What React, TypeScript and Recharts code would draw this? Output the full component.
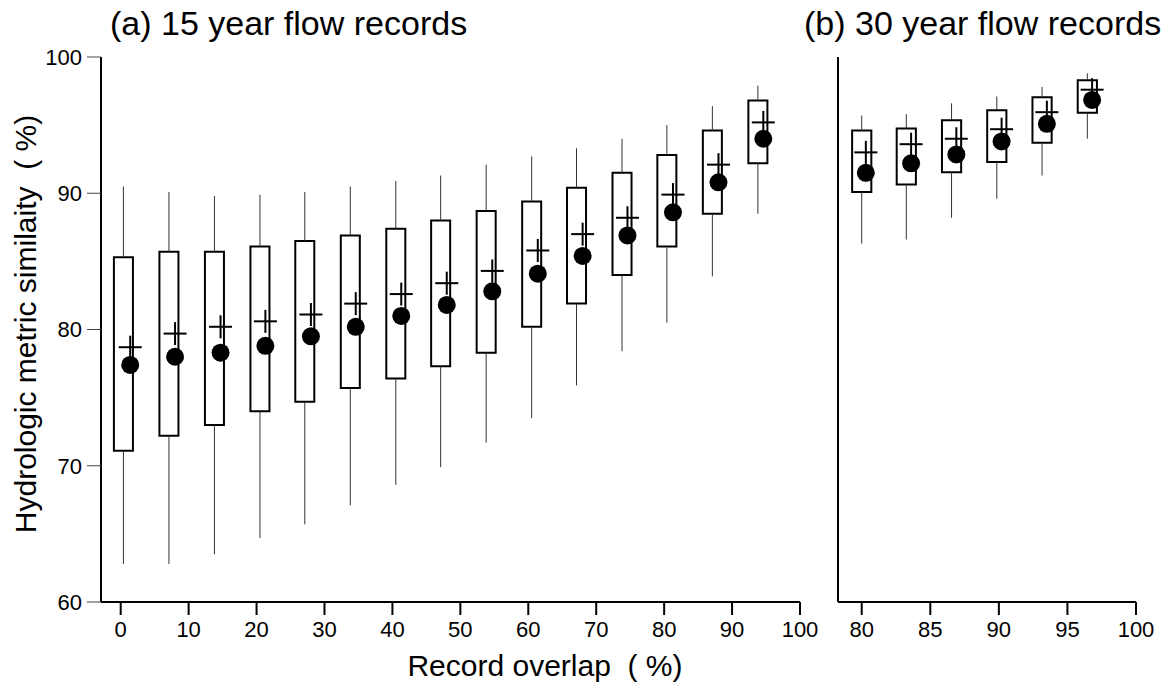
import { ComposedChart, ReferenceArea, ReferenceLine, Scatter, XAxis, YAxis } from 'recharts'

// (a) 15 year flow records
const boxXA = [0.4, 7.1, 13.8, 20.5, 27.1, 33.8, 40.5, 47.1, 53.8, 60.5, 67.1, 73.8, 80.4, 87.1, 93.8]
const markXA = [1.4, 8.0, 14.7, 21.3, 28.0, 34.6, 41.3, 48.0, 54.7, 61.4, 68.0, 74.6, 81.3, 88.0, 94.6]
const whiskerLowA = [62.8, 62.8, 63.5, 64.7, 65.7, 67.1, 68.6, 69.9, 71.7, 73.5, 75.9, 78.4, 80.5, 83.9, 88.5]
const boxLowA = [71.1, 72.2, 73.0, 74.0, 74.7, 75.7, 76.4, 77.3, 78.3, 80.2, 81.9, 84.0, 86.1, 88.5, 92.2]
const boxHighA = [85.3, 85.7, 85.7, 86.1, 86.5, 86.9, 87.4, 88.0, 88.7, 89.4, 90.4, 91.5, 92.8, 94.6, 96.8]
const whiskerHighA = [90.5, 90.1, 89.8, 89.9, 90.1, 90.5, 90.9, 91.3, 92.1, 92.7, 93.3, 94.0, 95.0, 96.4, 97.9]
const crossYA = [78.7, 79.7, 80.2, 80.6, 81.1, 81.9, 82.6, 83.4, 84.3, 85.8, 87.0, 88.2, 89.9, 92.1, 95.2]
const dotYA = [77.4, 78.0, 78.3, 78.8, 79.5, 80.2, 81.0, 81.8, 82.8, 84.1, 85.4, 86.9, 88.6, 90.8, 94.0]
const ticksXA = [0, 10, 20, 30, 40, 50, 60, 70, 80, 90, 100]

// (b) 30 year flow records
const boxXB = [80.0, 83.25, 86.55, 89.85, 93.15, 96.45]
const markXB = [80.3, 83.6, 86.9, 90.2, 93.5, 96.8]
const whiskerLowB = [86.3, 86.6, 88.2, 89.6, 91.3, 94.0]
const boxLowB = [90.1, 90.65, 91.55, 92.3, 93.7, 95.9]
const boxHighB = [94.6, 94.75, 95.35, 96.1, 97.05, 98.3]
const whiskerHighB = [95.7, 95.8, 96.6, 97.1, 97.8, 98.8]
const crossYB = [93.0, 93.6, 94.0, 94.7, 95.95, 97.6]
const dotYB = [91.5, 92.2, 92.85, 93.8, 95.1, 96.85]
const ticksXB = [80, 85, 90, 95, 100]

const ticksY = [60, 70, 80, 90, 100]

const FONT = '"Liberation Sans", Arial, sans-serif'

function CrossMark(props: any) {
  const { cx, cy } = props
  return (
    <g>
      <line x1={cx - 11.5} x2={cx + 11.5} y1={cy} y2={cy} stroke="#000" strokeWidth={2} />
      <line x1={cx} x2={cx} y1={cy - 11.5} y2={cy + 11.5} stroke="#000" strokeWidth={2} />
    </g>
  )
}

function DotMark(props: any) {
  const { cx, cy } = props
  return <circle cx={cx} cy={cy} r={9} fill="#000" />
}

interface PanelProps {
  boxX: number[]
  markX: number[]
  whiskerLow: number[]
  boxLow: number[]
  boxHigh: number[]
  whiskerHigh: number[]
  crossY: number[]
  dotY: number[]
  ticksX: number[]
  domainX: [number, number]
  halfWidth: number
  width: number
  margin: { top: number; right: number; bottom: number; left: number }
  yAxisWidth: number
  showYLabels: boolean
}

function BoxPanel(p: PanelProps) {
  const crosses = p.markX.map((x, i) => ({ x, y: p.crossY[i] }))
  const dots = p.markX.map((x, i) => ({ x, y: p.dotY[i] }))

  return (
    <ComposedChart width={p.width} height={688} margin={p.margin}>
      <XAxis
        type="number"
        dataKey="x"
        domain={p.domainX}
        ticks={p.ticksX}
        allowDataOverflow
        height={40}
        tickSize={13}
        tickMargin={6}
        axisLine={{ stroke: '#000', strokeWidth: 2 }}
        tickLine={{ stroke: '#000', strokeWidth: 2 }}
        tick={{ fill: '#000', fontSize: 22, fontFamily: FONT }}
      />
      <YAxis
        type="number"
        dataKey="y"
        domain={[60, 100]}
        ticks={ticksY}
        allowDataOverflow
        width={p.yAxisWidth}
        tickSize={14}
        tickMargin={5}
        axisLine={{ stroke: '#000', strokeWidth: 2 }}
        tickLine={{ stroke: '#444', strokeWidth: 1 }}
        tick={p.showYLabels ? { fill: '#000', fontSize: 22, fontFamily: FONT } : false}
      />
      {/* whiskers: lower and upper stems outside each box */}
      {p.boxX.map((x, i) => (
        <ReferenceLine
          key={`lo${i}`}
          segment={[{ x, y: p.whiskerLow[i] }, { x, y: p.boxLow[i] }]}
          stroke="#333"
          strokeWidth={1}
        />
      ))}
      {p.boxX.map((x, i) => (
        <ReferenceLine
          key={`hi${i}`}
          segment={[{ x, y: p.boxHigh[i] }, { x, y: p.whiskerHigh[i] }]}
          stroke="#333"
          strokeWidth={1}
        />
      ))}
      {p.boxX.map((x, i) => (
        <ReferenceArea
          key={`box${i}`}
          x1={x - p.halfWidth}
          x2={x + p.halfWidth}
          y1={p.boxLow[i]}
          y2={p.boxHigh[i]}
          fill="none"
          stroke="#000"
          strokeWidth={2}
        />
      ))}
      <Scatter data={crosses} shape={CrossMark} isAnimationActive={false} />
      <Scatter data={dots} shape={DotMark} isAnimationActive={false} />
    </ComposedChart>
  )
}

const titleStyle: React.CSSProperties = {
  position: 'absolute',
  fontFamily: FONT,
  fontSize: 34,
  lineHeight: '34px',
  color: '#000',
  whiteSpace: 'pre'
}

export default function App() {
  return (
    <div style={{ position: 'absolute', left: 0, top: 0, width: 1172, height: 688, background: '#fff' }}>
      <div style={{ position: 'absolute', left: 0, top: 0 }}>
        <BoxPanel
          boxX={boxXA}
          markX={markXA}
          whiskerLow={whiskerLowA}
          boxLow={boxLowA}
          boxHigh={boxHighA}
          whiskerHigh={whiskerHighA}
          crossY={crossYA}
          dotY={dotYA}
          ticksX={ticksXA}
          domainX={[-2.9, 100]}
          halfWidth={1.4}
          width={830}
          margin={{ top: 57, right: 30, bottom: 46, left: 41 }}
          yAxisWidth={60}
          showYLabels
        />
      </div>
      <div style={{ position: 'absolute', left: 820, top: 0 }}>
        <BoxPanel
          boxX={boxXB}
          markX={markXB}
          whiskerLow={whiskerLowB}
          boxLow={boxLowB}
          boxHigh={boxHighB}
          whiskerHigh={whiskerHighB}
          crossY={crossYB}
          dotY={dotYB}
          ticksX={ticksXB}
          domainX={[78.27, 100]}
          halfWidth={0.7}
          width={352}
          margin={{ top: 57, right: 36, bottom: 46, left: 4 }}
          yAxisWidth={14}
          showYLabels={false}
        />
      </div>
      <div style={{ ...titleStyle, left: 110, top: 6 }}>(a) 15 year flow records</div>
      <div style={{ ...titleStyle, left: 804, top: 6 }}>(b) 30 year flow records</div>
      <div
        style={{
          position: 'absolute',
          left: 395,
          top: 651,
          width: 300,
          textAlign: 'center',
          fontFamily: FONT,
          fontSize: 30,
          lineHeight: '30px',
          whiteSpace: 'pre'
        }}
      >
        {'Record overlap  ( %)'}
      </div>
      <div
        style={{
          position: 'absolute',
          left: 26,
          top: 324,
          transform: 'translate(-50%, -50%) rotate(-90deg)',
          fontFamily: FONT,
          fontSize: 30,
          lineHeight: '30px',
          whiteSpace: 'pre'
        }}
      >
        {'Hydrologic metric similaity  ( %)'}
      </div>
    </div>
  )
}
